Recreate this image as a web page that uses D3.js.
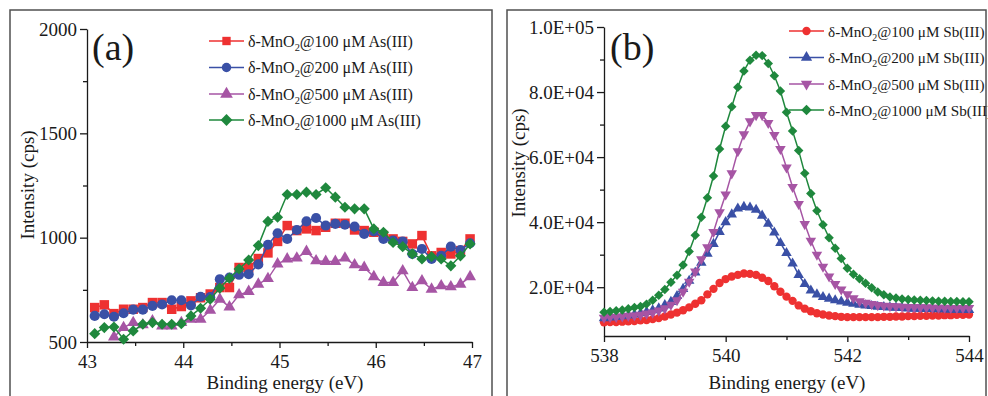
<!DOCTYPE html>
<html><head><meta charset="utf-8">
<script src="https://cdn.jsdelivr.net/npm/d3@7"></script>
<style>
html,body{margin:0;padding:0;background:#fff;}
svg{display:block;}
svg text{font-family:"Liberation Serif","Times New Roman","DejaVu Serif",serif !important;fill:#1a1a1a;}
</style></head>
<body><svg id="chart" width="988" height="396"></svg>
<script>
// ---------- Panel (a) data ----------
const energyA = [43.08,43.18,43.28,43.38,43.48,43.58,43.68,43.78,43.88,43.98,
  44.08,44.18,44.28,44.38,44.48,44.58,44.68,44.78,44.88,44.98,
  45.08,45.18,45.28,45.38,45.48,45.58,45.68,45.78,45.88,45.98,
  46.08,46.18,46.28,46.38,46.48,46.58,46.68,46.78,46.88,46.98];
const asRed = [665,678,636,657,657,665,689,689,657,670,
  697,712,730,761,761,857,857,900,927,982,
  1058,1034,1042,1034,1050,1069,1069,1037,1034,1026,
  1010,994,982,970,1010,913,929,922,938,994];
const asBlue = [625,633,621,638,655,655,673,680,700,700,
  675,717,715,801,809,822,825,872,966,1021,
  994,1037,1078,1094,1058,1066,1062,1053,1018,1030,
  994,986,982,922,946,898,913,957,941,973];
const asPurple = [null,null,524,569,593,582,601,577,577,593,
  609,609,652,705,668,726,742,777,804,874,
  898,902,934,889,886,886,902,870,857,813,
  785,785,841,761,793,753,769,764,777,813];
const asGreen = [540,569,572,513,553,585,593,585,585,588,
  625,662,705,758,806,850,893,962,1078,1098,
  1207,1207,1218,1207,1239,1194,1146,1138,1138,1042,
  1026,977,957,922,898,909,898,865,913,970];
const seriesNamesA = ["100","200","500","1000"];
const xTicksA = [43,44,45,46,47];
const xMinorA = [43.5,44.5,45.5,46.5];
const yTicksA = [500,1000,1500,2000];
const yMinorA = [750,1250,1750];

// ---------- Panel (b) data ----------
const energyB = [538.0,538.1,538.2,538.3,538.4,538.5,538.6,538.7,538.8,538.9,
  539.0,539.1,539.2,539.3,539.4,539.5,539.6,539.7,539.8,539.9,
  540.0,540.1,540.2,540.3,540.4,540.5,540.6,540.7,540.8,540.9,
  541.0,541.1,541.2,541.3,541.4,541.5,541.6,541.7,541.8,541.9,
  542.0,542.1,542.2,542.3,542.4,542.5,542.6,542.7,542.8,542.9,
  543.0,543.1,543.2,543.3,543.4,543.5,543.6,543.7,543.8,543.9,544.0];
const sbRed = [9200,9300,9300,9400,9500,9600,9800,9900,10200,10500,
  11000,11600,12200,12900,13800,14900,16000,17800,19500,21300,
  22500,23300,23800,24200,24100,23800,22900,21900,20300,18600,
  17100,15800,14400,13400,12600,12000,11600,11300,11100,10900,
  10800,10800,10800,10800,10800,10800,10900,10900,11000,11000,
  11100,11100,11200,11200,11300,11300,11400,11400,11500,11500,11600];
const sbBlue = [10500,10700,10900,11100,11300,11600,12000,12400,12900,13500,
  14500,15500,17300,19500,22000,24500,27500,30300,33300,37000,
  40000,42400,44200,44700,44500,43800,42000,39500,36800,33600,
  30500,27300,23800,21000,19000,17800,17000,16500,16000,15600,
  15200,14900,14600,14400,14200,14000,13900,13800,13700,13600,
  13500,13400,13400,13300,13300,13200,13200,13100,13100,13100,13000];
const sbPurple = [10600,10800,10900,11000,11200,11300,11500,11900,12200,12800,
  13500,14600,16000,18600,21700,24800,28600,32300,37000,43000,
  48500,55000,61800,67000,71000,72900,72900,70500,66800,62500,
  56800,50800,45600,39400,34300,30000,26300,23300,21000,19300,
  17800,16600,15700,15200,14800,14500,14300,14200,14100,14000,
  13900,13900,13800,13800,13700,13700,13700,13600,13600,13600,13600];
const sbGreen = [12300,12500,12800,13000,13400,13800,14100,14800,16000,17500,
  19300,21500,23700,26800,31000,36000,41500,47500,54200,62500,
  69500,75500,81500,86500,89800,91300,91200,88800,85000,80300,
  73800,68000,62000,55000,48800,43500,39200,35200,32000,28800,
  25800,24000,22600,21200,19800,18500,17700,17000,16700,16400,
  16200,16100,16000,15900,15800,15700,15700,15600,15600,15500,15500];
const seriesNamesB = ["100","200","500","1000"];
const xTicksB = [538,540,542,544];
const xMinorB = [539,541,543];
const yTicksB = [20000,40000,60000,80000,100000];
const yTickLabelsB = ["2.0E+04","4.0E+04","6.0E+04","8.0E+04","1.0E+05"];
const yMinorB = [10000,30000,50000,70000,90000];

const colors = ["#EE3131","#3A50A6","#A655A4","#1F883D"];
const SERIF = '"Liberation Serif","Times New Roman","DejaVu Serif",serif';

const svg = d3.select("#chart");
svg.append("rect").attr("width",988).attr("height",396).attr("fill","#fff");

// frames
svg.append("rect").attr("x",10).attr("y",10).attr("width",482).attr("height",400)
  .attr("fill","none").attr("stroke","#505050").attr("stroke-width",1.5);
svg.append("rect").attr("x",507).attr("y",10).attr("width",479).attr("height",400)
  .attr("fill","none").attr("stroke","#505050").attr("stroke-width",1.5);

function symPath(kind, size){
  if(kind==="square") return d3.symbol().type(d3.symbolSquare).size(size)();
  if(kind==="circle") return d3.symbol().type(d3.symbolCircle).size(size)();
  if(kind==="up"||kind==="down") return d3.symbol().type(d3.symbolTriangle).size(size)();
  if(kind==="diamond") return d3.symbol().type(d3.symbolSquare).size(size)();
}
function symRot(kind){ return kind==="down"?180:(kind==="diamond"?45:0); }

function drawAxes(g, x, y, xTicks, xMinor, yTicks, yMinor, yFmt, xRange, yRange){
  const ax = g.append("g").attr("transform",`translate(0,${yRange[0]})`)
    .call(d3.axisBottom(x).tickValues(xTicks).tickSize(6).tickSizeOuter(0).tickPadding(4).tickFormat(d3.format("d")));
  g.append("g").attr("transform",`translate(0,${yRange[0]})`)
    .call(d3.axisBottom(x).tickValues(xMinor).tickSize(4).tickSizeOuter(0).tickFormat(""))
    .select(".domain").remove();
  const ay = g.append("g").attr("transform",`translate(${xRange[0]},0)`)
    .call(d3.axisLeft(y).tickValues(yTicks).tickSize(7).tickSizeOuter(0).tickPadding(3).tickFormat(yFmt));
  g.append("g").attr("transform",`translate(${xRange[0]},0)`)
    .call(d3.axisLeft(y).tickValues(yMinor).tickSize(4).tickSizeOuter(0).tickFormat(""))
    .select(".domain").remove();
  g.selectAll("g").attr("font-family",SERIF);
  g.selectAll(".tick line, .domain").attr("stroke","#1a1a1a").attr("stroke-width",1.3);
  g.selectAll(".tick text").style("font-family",SERIF).attr("font-size",19).attr("fill","#1a1a1a");
  ax.selectAll(".tick text").attr("dy","0.84em");
}

function drawSeries(g, x, y, xs, ys, color, kind, size){
  const pts = xs.map((e,i)=>({e, v: ys[i]})).filter(d=>d.v!==null);
  const line = d3.line().x(d=>x(d.e)).y(d=>y(d.v));
  g.append("path").datum(pts).attr("d",line).attr("fill","none")
    .attr("stroke",color).attr("stroke-width",1.5);
  g.selectAll(null).data(pts).enter().append("path")
    .attr("d",symPath(kind,size))
    .attr("transform",d=>`translate(${x(d.e)},${y(d.v)}) rotate(${symRot(kind)})`)
    .attr("fill",color);
}

function drawLegend(g, items, x0, ys, kinds, size, element, fs){
  items.forEach((lab,i)=>{
    const yy = ys[i];
    g.append("line").attr("x1",x0).attr("x2",x0+35).attr("y1",yy).attr("y2",yy)
      .attr("stroke",colors[i]).attr("stroke-width",1.5);
    g.append("path").attr("d",symPath(kinds[i],size))
      .attr("transform",`translate(${x0+17.5},${yy}) rotate(${symRot(kinds[i])})`)
      .attr("fill",colors[i]);
    const t = g.append("text").attr("x",x0+39).attr("y",yy+5.5).attr("font-size",fs)
      .style("font-family",SERIF);
    t.append("tspan").text("δ-MnO");
    t.append("tspan").attr("font-size",fs*0.65).attr("dy",4).text("2");
    t.append("tspan").attr("dy",-4).text("@"+lab+" μM "+element);
  });
}
function label(g, txt, attrs, fs){
  const t = g.append("text").attr("font-size",fs).style("font-family",SERIF).text(txt);
  Object.entries(attrs).forEach(([k,v])=>t.attr(k,v));
  return t;
}

// ---------- Panel (a) ----------
const xA = d3.scaleLinear().domain([43,47]).range([87,472]);
const yA = d3.scaleLinear().domain([500,2000]).range([342,29]);
const gA = svg.append("g");
drawAxes(gA, xA, yA, xTicksA, xMinorA, yTicksA, yMinorA, d3.format("d"), [87,472],[342,29]);
const kindsA = ["square","circle","up","diamond"];
const sizesA = [90,80,62,62];
[asRed,asBlue,asPurple,asGreen].forEach((s,i)=>drawSeries(gA,xA,yA,energyA,s,colors[i],kindsA[i],sizesA[i]));
drawLegend(gA, seriesNamesA, 209, [41,67.5,94,120], kindsA, 70, "As(III)", 16);
label(gA,"(a)",{x:92,y:60},38);
label(gA,"Binding energy (eV)",{x:285,y:389,"text-anchor":"middle"},19);
label(gA,"Intensity (cps)",{transform:"translate(34,185) rotate(-90)","text-anchor":"middle"},19);

// ---------- Panel (b) ----------
const xB = d3.scaleLinear().domain([538,544]).range([604,969]);
const yB = d3.scaleLinear().domain([5000,100000]).range([336,27]);
const gB = svg.append("g");
drawAxes(gB, xB, yB, xTicksB, xMinorB, yTicksB, yMinorB, (d)=>yTickLabelsB[yTicksB.indexOf(d)], [604,969],[336,27]);
const kindsB = ["circle","up","down","diamond"];
const sizesB = [55,48,48,45];
[sbRed,sbBlue,sbPurple,sbGreen].forEach((s,i)=>drawSeries(gB,xB,yB,energyB,s,colors[i],kindsB[i],sizesB[i]));
drawLegend(gB, seriesNamesB, 789, [31,57.5,84,110], kindsB, 55, "Sb(III)", 15.2);
label(gB,"(b)",{x:610,y:60},38);
label(gB,"Binding energy (eV)",{x:787,y:389,"text-anchor":"middle"},19);
label(gB,"Intensity (cps)",{transform:"translate(525,163) rotate(-90)","text-anchor":"middle"},19);
</script></body></html>
